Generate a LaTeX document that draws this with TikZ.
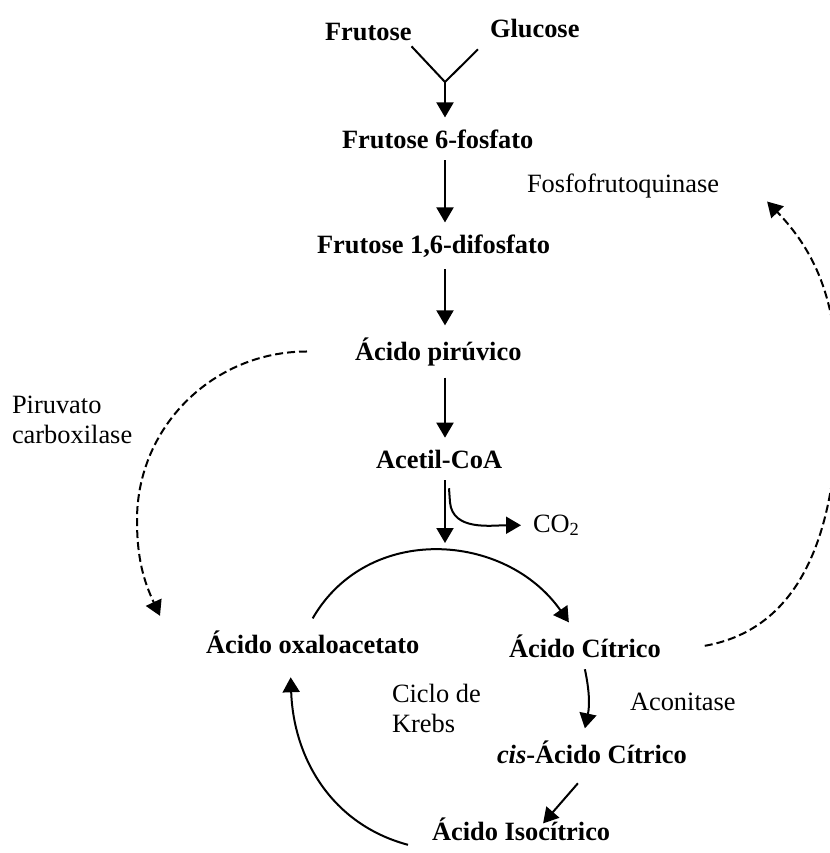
\documentclass[tikz,border=0pt]{standalone}
\usepackage{fontspec}
\setmainfont{Liberation Serif}
\usetikzlibrary{arrows.meta}

\begin{document}
\begin{tikzpicture}[
  x=0.5pt,y=0.5pt,
  metab/.style={anchor=base west,inner sep=0pt,outer sep=6pt,
                font=\fontsize{13.2}{15}\selectfont\bfseries},
  enzyme/.style={anchor=base west,inner sep=0pt,outer sep=6pt,align=left,
                 font=\fontsize{13.2}{15}\selectfont},
  arrow/.style={-{Triangle[length=7.5pt,width=8.5pt]},line width=1pt},
  dasharrow/.style={arrow,dash pattern=on 4pt off 2pt},
]
\useasboundingbox (0,0) rectangle (830,-853);

% metabolites
\node[metab] (fru) at (313,-40) {Frutose};
\node[metab] (glu) at (478,-37) {Glucose};
\node[metab] (f6) at (330,-148) {Frutose 6-fosfato};
\node[metab] (f16) at (305,-253) {Frutose 1,6-difosfato};
\node[metab] (pir) at (343,-360) {Ácido pirúvico};
\node[metab] (acetil) at (364,-468) {Acetil-CoA};
\node[enzyme] (co2) at (521,-532) {CO\textsubscript{2}};
\node[metab] (oxa) at (194,-653) {Ácido oxaloacetato};
\node[metab] (cit) at (497,-657) {Ácido Cítrico};
\node[metab] (cis) at (485,-763) {\textit{cis}-Ácido Cítrico};
\node[metab] (iso) at (420,-840) {Ácido Isocítrico};

% enzymes and labels (base = last line)
\node[enzyme] (pfk) at (515,-192) {Fosfofrutoquinase};
\node[enzyme] (pc) at (0,-443) {Piruvato\\carboxilase};
\node[enzyme] (krebs) at (380,-732) {Ciclo de\\Krebs};
\node[enzyme] (aco) at (618,-710) {Aconitase};

\coordinate (axis) at (445,0);
\coordinate (jn) at (445,-82);
\coordinate (cyc) at (445,-543);
\coordinate (pcturn) at (137,-520);
\coordinate (pfkturn) at (838,-395);

% glycolysis
\draw[line width=1pt] ([shift={(-6pt,3pt)}]fru.south east) -- (jn) -- (glu.south west);
\draw[arrow] (jn) -- (f6.north -| jn);
\draw[arrow] (f6.south -| axis) -- (f16.north -| axis);
\draw[arrow] (f16.south -| axis) -- (pir.north -| axis);
\draw[arrow] (pir.south -| axis) -- (acetil.north -| axis);
\draw[arrow] (acetil.south -| axis) -- (cyc);
\draw[arrow] ([xshift=2pt,yshift=-4pt]acetil.south -| axis) -- ++(1,-14)
  to[out=-85,in=180] (co2.west);

% Krebs cycle
\draw[arrow] (oxa.north) to[out=60,in=125,looseness=1.1] ([xshift=-8pt]cit.north);
\draw[arrow] (cit.south) to[bend left=12] (cis.north -| cit.south);
\draw[arrow] ([xshift=-7pt,yshift=-4pt]cis.south) -- ([xshift=11pt,yshift=-9pt]iso.north);
\draw[arrow] ([xshift=-6pt,yshift=-8pt]iso.west) to[out=165,in=-88]
  ([xshift=-11pt,yshift=-6pt]oxa.south);

% regulation
\draw[dasharrow] ([xshift=-18pt]pir.west) to[out=180,in=90] (pcturn)
  to[out=-90,in=115] ([xshift=-17pt,yshift=13pt]oxa.west);
\draw[dasharrow] ([xshift=16pt]cit.east) to[out=10,in=-90] (pfkturn)
  to[out=90,in=-46] ([xshift=18pt,yshift=-8pt]pfk.east);
\end{tikzpicture}
\end{document}
